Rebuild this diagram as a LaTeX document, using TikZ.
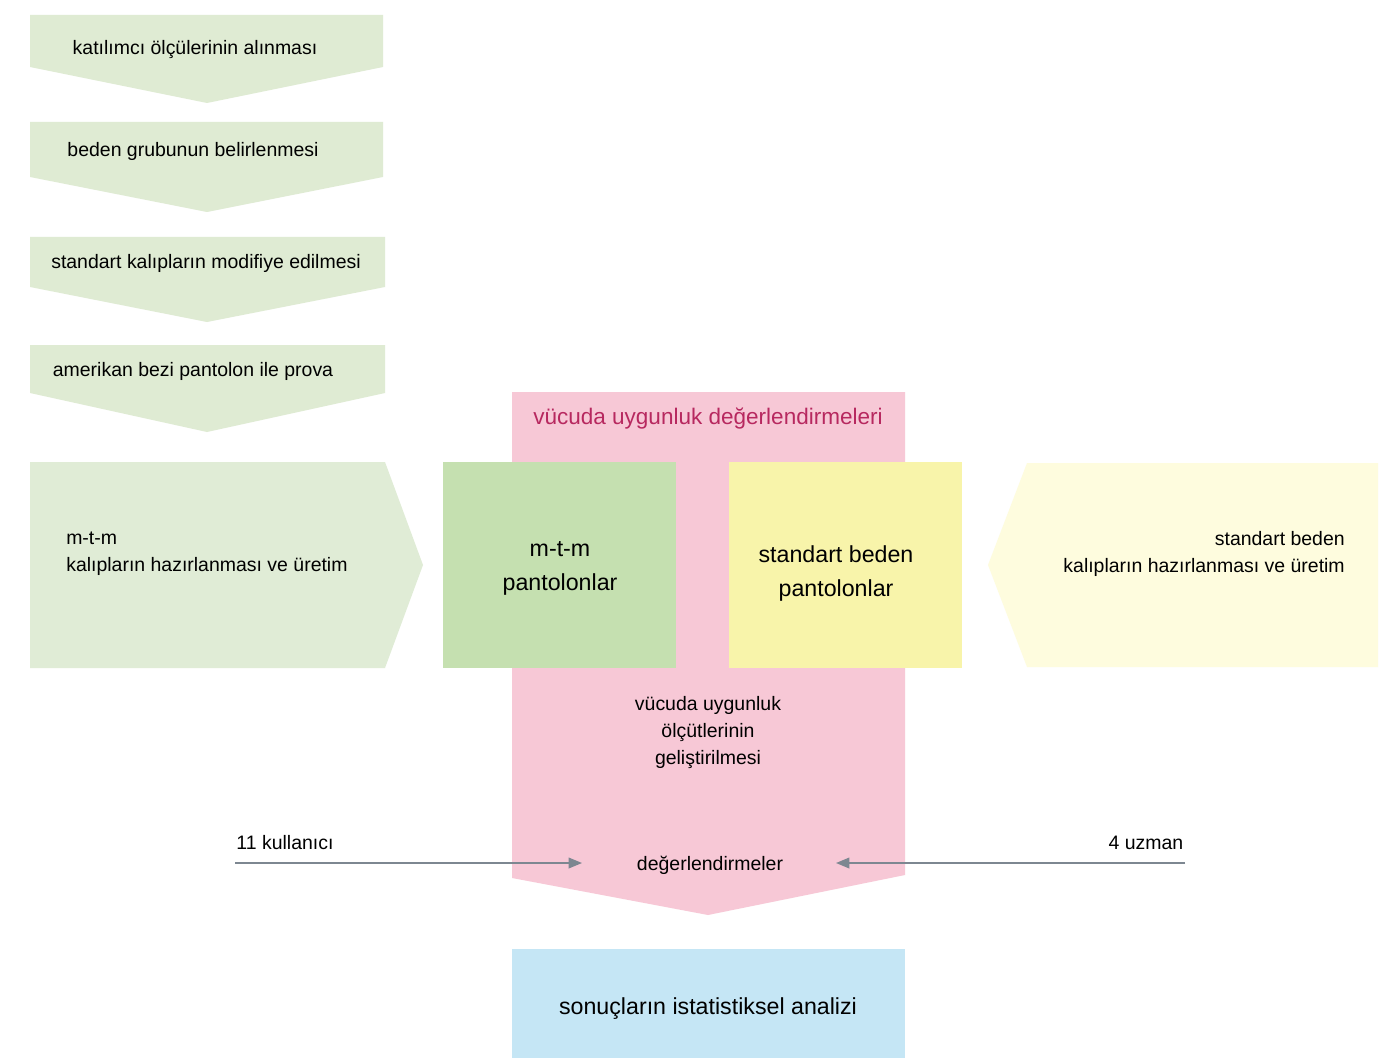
\documentclass[tikz,border=0pt]{standalone}
\usepackage{fontspec}
\setmainfont{Liberation Sans}
\usetikzlibrary{arrows.meta}
\definecolor{chev}{RGB}{223,235,211}
\definecolor{bigarrowgreen}{RGB}{224,236,214}
\definecolor{boxgreen}{RGB}{197,224,176}
\definecolor{boxyellow}{RGB}{248,244,170}
\definecolor{arrowyellow}{RGB}{254,252,222}
\definecolor{pinkbg}{RGB}{247,200,214}
\definecolor{pinktext}{RGB}{183,40,95}
\definecolor{bluebox}{RGB}{197,230,245}
\definecolor{arrgray}{RGB}{125,135,145}
\begin{document}
\begin{tikzpicture}[x=0.75pt,y=-0.75pt,
  smalltext/.style={font=\fontsize{14.6}{20.25}\selectfont, text=black, inner sep=0pt},
  bigtext/.style={font=\fontsize{17.4}{25.5}\selectfont, text=black, inner sep=0pt, align=center},
  conn/.style={draw=arrgray, line width=1.1pt, -{Triangle[length=10pt,width=8pt]}}]
\useasboundingbox[fill=white] (0,0) rectangle (1383,1062);

% chevrons
\fill[chev] (30,15) -- (383,15) -- (383,67) -- (207,103) -- (30,67) -- cycle;
\fill[chev] (30,122) -- (383,122) -- (383,177) -- (207,212) -- (30,177) -- cycle;
\fill[chev] (30,237) -- (385,237) -- (385,287) -- (207,322) -- (30,287) -- cycle;
\fill[chev] (30,345) -- (385,345) -- (385,393) -- (207,432) -- (30,393) -- cycle;

\node[smalltext] (c1) at (195,50) {katılımcı ölçülerinin alınması};
\node[smalltext] (c2) at (193,151) {beden grubunun belirlenmesi};
\node[smalltext] (c3) at (206,263) {standart kalıpların modifiye edilmesi};
\node[smalltext] (c4) at (193,371) {amerikan bezi pantolon ile prova};

% pink evaluation shape
\fill[pinkbg] (512,392) -- (905,392) -- (905,875) -- (708,915) -- (512,878) -- cycle;
\node[font=\fontsize{16.9}{20}\selectfont, text=pinktext, inner sep=0pt] (title) at (708,419) {vücuda uygunluk değerlendirmeleri};

% left big arrow
\fill[bigarrowgreen] (30,462) -- (385,462) -- (423,565) -- (385,668) -- (30,668) -- cycle;
\node[smalltext, align=left, anchor=west] (mtmprep) at (66,554) {m-t-m\\kalıpların hazırlanması ve üretim};

% right big arrow
\fill[arrowyellow] (1378,463) -- (1027,463) -- (988,565) -- (1027,667) -- (1378,667) -- cycle;
\node[smalltext, align=right, anchor=east] (stdprep) at (1345,554) {standart beden\\kalıpların hazırlanması ve üretim};

% boxes
\fill[boxgreen] (443,462) rectangle (676,668);
\node[bigtext] (mtm) at (560,568) {m-t-m\\pantolonlar};
\fill[boxyellow] (729,462) rectangle (962,668);
\node[bigtext] (std) at (836,573) {standart beden\\pantolonlar};

\node[smalltext, align=center] (crit) at (708,733) {vücuda uygunluk\\ölçütlerinin\\geliştirilmesi};
\node[smalltext] (eval) at (710,865) {değerlendirmeler};

% users / experts
\node[smalltext] (users) at (285,843) {11 kullanıcı};
\node[smalltext] (experts) at (1146,843) {4 uzman};
\coordinate (ustart) at (235,863);
\coordinate (uend) at (582,863);
\coordinate (estart) at (1185,863);
\coordinate (eend) at (836,863);
\draw[conn] (ustart) -- (uend);
\draw[conn] (estart) -- (eend);

% statistics box
\fill[bluebox] (512,949) rectangle (905,1058);
\node[bigtext] (stats) at (708,1009) {sonuçların istatistiksel analizi};
\end{tikzpicture}
\end{document}
